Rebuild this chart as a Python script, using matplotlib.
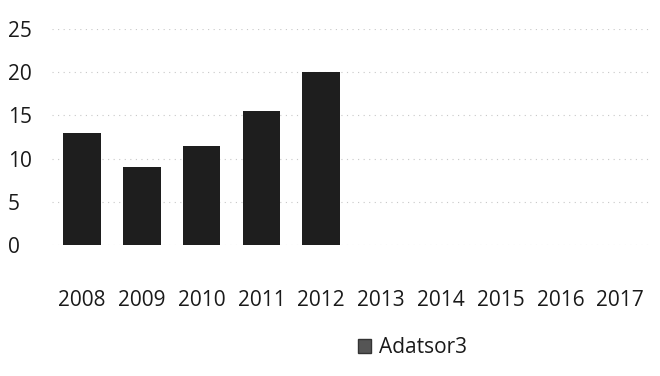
import matplotlib
matplotlib.use("Agg")
import matplotlib.pyplot as plt
from matplotlib.patches import Patch

years = ["2008", "2009", "2010", "2011", "2012", "2013", "2014", "2015", "2016", "2017"]
values = [13, 9, 11.5, 15.5, 20]
yticks = [0, 5, 10, 15, 20, 25]
series_name = "Adatsor3"

plt.rcParams["font.family"] = ["Open Sans", "DejaVu Sans"]

fig = plt.figure(figsize=(6.6, 3.76), dpi=100)
ax = fig.add_axes([0.079, 0.348, 0.906, 0.575])

x = list(range(len(years)))
ax.bar(x[:len(values)], values, width=0.63, color="#1e1e1e", zorder=3)

ax.set_xlim(-0.5, len(years) - 0.5)
ax.set_ylim(0, 25)
ax.set_yticks(yticks)
ax.set_xticks(x)
ax.set_xticklabels(years)
ax.tick_params(axis="y", length=0, pad=32, labelsize=15, labelcolor="#1a1a1a")
ax.tick_params(axis="x", length=0, pad=32, labelsize=15, labelcolor="#1a1a1a")
for lbl in ax.get_yticklabels():
    lbl.set_horizontalalignment("left")
for s in ax.spines.values():
    s.set_visible(False)
ax.yaxis.grid(True, color="#c8c8c8", linestyle=(0, (1, 4)), linewidth=0.8, zorder=0)

fig.legend(handles=[Patch(facecolor="#555555", edgecolor="#333333", label=series_name)],
           loc="center", bbox_to_anchor=(0.625, 0.075), frameon=False,
           fontsize=15, handlelength=0.6, handleheight=0.6, handletextpad=0.4,
           labelcolor="#1a1a1a")

fig.savefig("out.png", dpi=100, facecolor="white")
